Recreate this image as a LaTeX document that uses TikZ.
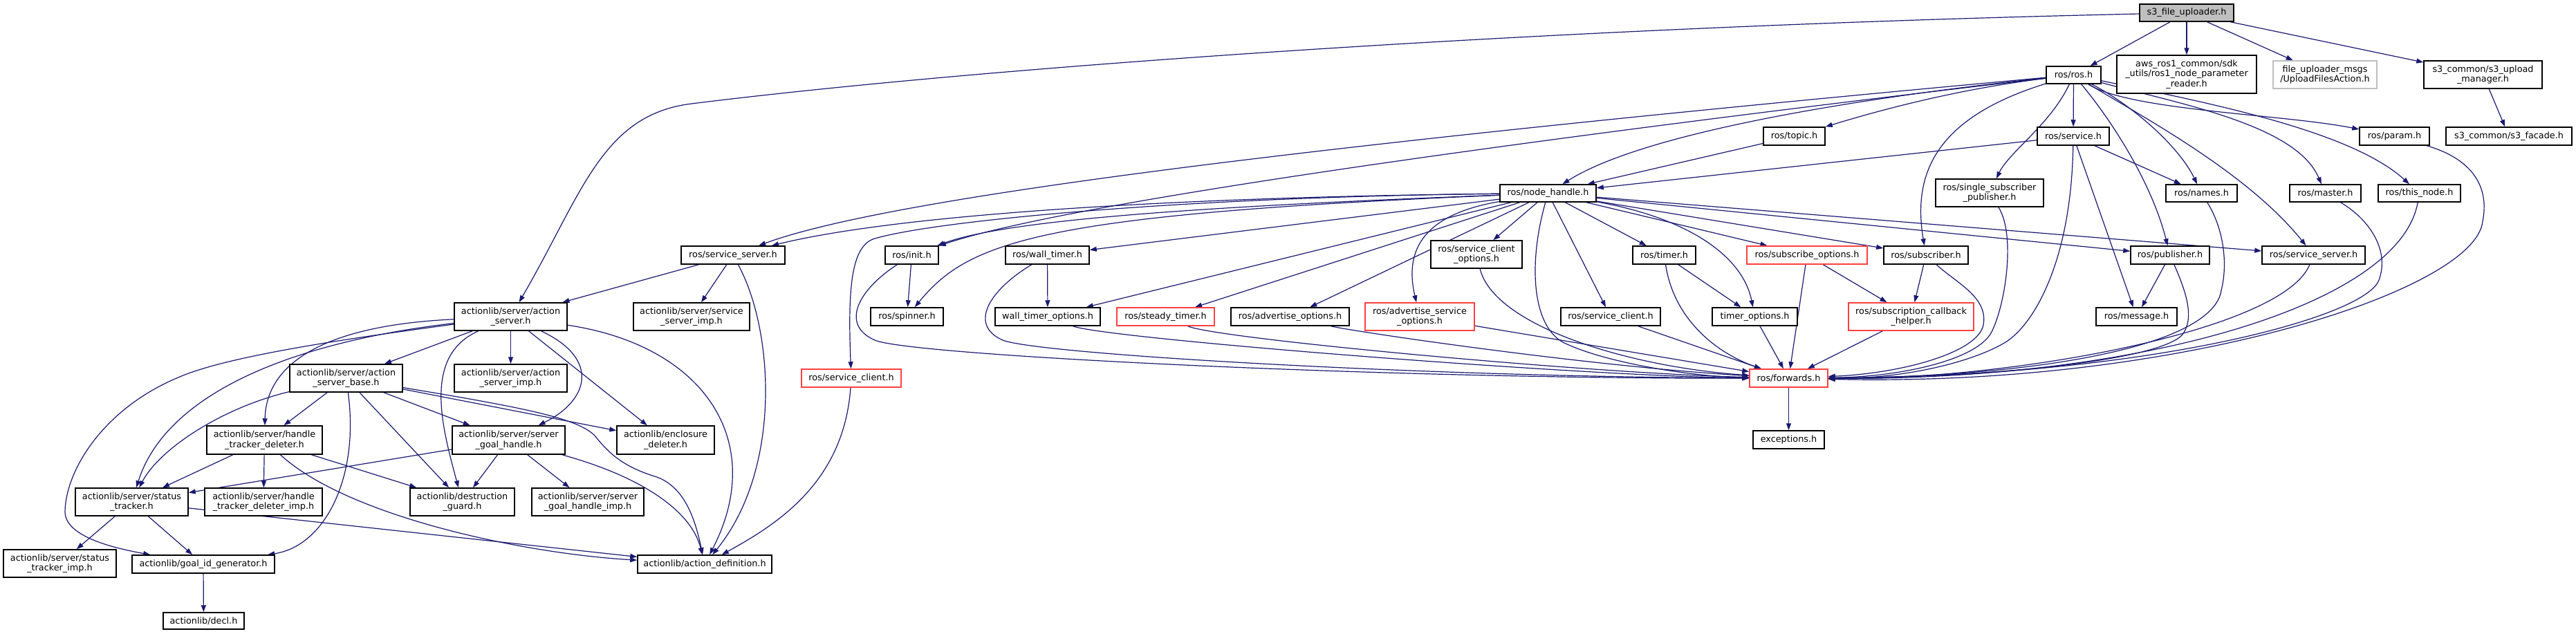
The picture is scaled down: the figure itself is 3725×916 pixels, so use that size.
\documentclass[tikz,border=0pt]{standalone}
\usepackage{fontspec}
\setmainfont{DejaVu Sans}
\usetikzlibrary{arrows.meta}
\definecolor{edgeblue}{HTML}{191970}
\definecolor{rootgray}{HTML}{BFBFBF}
\definecolor{ghostgray}{HTML}{BFBFBF}
\definecolor{cutred}{HTML}{FF4040}
\pgfdeclarelayer{background}
\pgfsetlayers{background,main}

\begin{document}
\begin{tikzpicture}[x=1pt,y=-1pt,->,>={Triangle[length=10pt,width=7pt]},
                    every edge/.style={draw=edgeblue,line width=1.2pt},
                    font=\fontsize{12.8}{14.7}\selectfont]
  \tikzstyle{hdr}=[draw=black,fill=white,text=black,line width=1.5pt,inner sep=0pt,align=center]
  \tikzstyle{root}=[fill=rootgray]
  \tikzstyle{ghost}=[draw=ghostgray]
  \tikzstyle{truncated}=[draw=cutred]
  \tikzstyle{dep}=[draw=edgeblue,line width=1.2pt]
  \tikzset{sz/.style 2 args={minimum width=#1pt,minimum height=#2pt}}

  \useasboundingbox (0,0) rectangle (3725,916);

  % top rows
  \node[hdr,root,sz={136}{25}] (s3up) at (3162,18.5) {s3\_file\_uploader.h};
  \node[hdr,sz={79}{25}] (rosros) at (2998.5,108.5) {ros/ros.h};
  \node[hdr,sz={202}{55}] (awsreader) at (3162,107.5) {aws\_ros1\_common/sdk\\\_utils/ros1\_node\_parameter\\\_reader.h};
  \node[hdr,ghost,sz={150}{40}] (uploadmsgs) at (3362,108) {file\_uploader\_msgs\\/UploadFilesAction.h};
  \node[hdr,sz={171}{40}] (uploadmgr) at (3590.5,108) {s3\_common/s3\_upload\\\_manager.h};
  \node[hdr,sz={89}{26}] (topic) at (2594.5,197) {ros/topic.h};
  \node[hdr,sz={104}{26}] (service) at (2998,197) {ros/service.h};
  \node[hdr,sz={101}{26}] (param) at (3462.5,197) {ros/param.h};
  \node[hdr,sz={182}{26}] (facade) at (3628,197) {s3\_common/s3\_facade.h};
  \node[hdr,sz={139}{25}] (nodehandle) at (2238.5,279.5) {ros/node\_handle.h};
  \node[hdr,sz={156}{40}] (singlepub) at (2877,279) {ros/single\_subscriber\\\_publisher.h};
  \node[hdr,sz={103}{25}] (names) at (3183.5,279.5) {ros/names.h};
  \node[hdr,sz={103}{25}] (master) at (3362.5,279.5) {ros/master.h};
  \node[hdr,sz={119}{25}] (thisnode) at (3498.5,279.5) {ros/this\_node.h};

  % ros middle rows
  \node[hdr,sz={150}{26}] (srvsrvl) at (1060,369) {ros/service\_server.h};
  \node[hdr,sz={77}{26}] (init) at (1318.5,369) {ros/init.h};
  \node[hdr,sz={121}{26}] (walltimer) at (1514.5,369) {ros/wall\_timer.h};
  \node[hdr,sz={132}{40}] (clientopts) at (2135,368) {ros/service\_client\\\_options.h};
  \node[hdr,sz={91}{26}] (timer) at (2406.5,369) {ros/timer.h};
  \node[hdr,truncated,sz={174}{26}] (subopts) at (2613,369) {ros/subscribe\_options.h};
  \node[hdr,sz={122}{26}] (subscriber) at (2785,369) {ros/subscriber.h};
  \node[hdr,sz={114}{26}] (publisher) at (3138,369) {ros/publisher.h};
  \node[hdr,sz={149}{26}] (srvsrvr) at (3345.5,369) {ros/service\_server.h};
  \node[hdr,sz={105}{26}] (spinner) at (1311.5,458) {ros/spinner.h};
  \node[hdr,sz={152}{26}] (walltimeropts) at (1515,458) {wall\_timer\_options.h};
  \node[hdr,truncated,sz={141}{26}] (steadytimer) at (1685.5,458) {ros/steady\_timer.h};
  \node[hdr,sz={171}{26}] (advopts) at (1865.5,458) {ros/advertise\_options.h};
  \node[hdr,truncated,sz={158}{40}] (advsrvopts) at (2053,458) {ros/advertise\_service\\\_options.h};
  \node[hdr,sz={144}{26}] (svcclientr) at (2329,458) {ros/service\_client.h};
  \node[hdr,sz={123}{26}] (timeropts) at (2537.5,458) {timer\_options.h};
  \node[hdr,truncated,sz={181}{40}] (cbhelper) at (2763.5,458) {ros/subscription\_callback\\\_helper.h};
  \node[hdr,sz={117}{26}] (message) at (3089.5,458) {ros/message.h};
  \node[hdr,truncated,sz={144}{26}] (svcclientl) at (1231,547) {ros/service\_client.h};
  \node[hdr,truncated,sz={113}{26}] (forwards) at (2586.5,547) {ros/forwards.h};
  \node[hdr,sz={103}{26}] (exceptions) at (2586.5,636) {exceptions.h};

  % actionlib
  \node[hdr,sz={163}{40}] (actsrv) at (738.5,458) {actionlib/server/action\\\_server.h};
  \node[hdr,sz={168}{40}] (srvsrvimp) at (1000,458) {actionlib/server/service\\\_server\_imp.h};
  \node[hdr,sz={163}{40}] (actsrvbase) at (500.5,547) {actionlib/server/action\\\_server\_base.h};
  \node[hdr,sz={163}{40}] (actsrvimp) at (738.5,547) {actionlib/server/action\\\_server\_imp.h};
  \node[hdr,sz={167}{41}] (htdeleter) at (382.5,636.5) {actionlib/server/handle\\\_tracker\_deleter.h};
  \node[hdr,sz={163}{41}] (goalhandle) at (735.5,636.5) {actionlib/server/server\\\_goal\_handle.h};
  \node[hdr,sz={141}{41}] (enclosure) at (962.5,636.5) {actionlib/enclosure\\\_deleter.h};
  \node[hdr,sz={163}{40}] (tracker) at (190.5,726) {actionlib/server/status\\\_tracker.h};
  \node[hdr,sz={170}{40}] (htdeleterimp) at (381,726) {actionlib/server/handle\\\_tracker\_deleter\_imp.h};
  \node[hdr,sz={151}{40}] (guard) at (668.5,726) {actionlib/destruction\\\_guard.h};
  \node[hdr,sz={162}{40}] (goalhandleimp) at (850,726) {actionlib/server/server\\\_goal\_handle\_imp.h};
  \node[hdr,sz={163}{40}] (trackerimp) at (86.5,815) {actionlib/server/status\\\_tracker\_imp.h};
  \node[hdr,sz={206}{26}] (goalid) at (294,816) {actionlib/goal\_id\_generator.h};
  \node[hdr,sz={194}{26}] (actdef) at (1019,816) {actionlib/action\_definition.h};
  \node[hdr,sz={117}{24}] (decl) at (294.5,898) {actionlib/decl.h};

  \begin{pgfonlayer}{background}
  % straight includes
  \path (s3up) edge (rosros)
        (s3up) edge (awsreader)
        (s3up) edge (uploadmsgs)
        (s3up) edge (uploadmgr)
        (uploadmgr) edge (facade)
        (rosros) edge (service)
        (topic) edge (nodehandle)
        (service) edge (nodehandle)
        (service) edge (names)
        (service) edge (message)
        (subscriber) edge (cbhelper)
        (publisher) edge (message)
        (nodehandle) edge (clientopts)
        (nodehandle) edge (advopts)
        (nodehandle) edge (svcclientr)
        (nodehandle) edge (timer)
        (nodehandle) edge (subopts)
        (nodehandle) edge (subscriber)
        (nodehandle) edge (publisher)
        (nodehandle) edge (srvsrvr)
        (nodehandle) edge (walltimer)
        (nodehandle) edge (walltimeropts)
        (nodehandle) edge (steadytimer)
        (init) edge (spinner)
        (walltimer) edge (walltimeropts)
        (timer) edge (timeropts)
        (timeropts) edge (forwards)
        (svcclientr) edge (forwards)
        (subopts) edge (forwards)
        (subopts) edge (cbhelper)
        (cbhelper) edge (forwards)
        (advsrvopts) edge (forwards)
        (forwards) edge (exceptions)
        (srvsrvl) edge (actsrv)
        (srvsrvl) edge (srvsrvimp)
        (actsrv) edge (actsrvbase)
        (actsrv) edge (actsrvimp)
        (actsrv) edge (enclosure)
        (actsrvbase) edge (htdeleter)
        (actsrvbase) edge (guard)
        (actsrvbase) edge (goalhandle)
        (actsrvbase) edge (enclosure)
        (htdeleter) edge (tracker)
        (htdeleter) edge (htdeleterimp)
        (htdeleter) edge (guard)
        (goalhandle) edge (tracker)
        (goalhandle) edge (guard)
        (goalhandle) edge (goalhandleimp)
        (tracker) edge (trackerimp)
        (tracker) edge (goalid)
        (tracker) edge (actdef)
        (goalid) edge (decl);

  % curved includes
  \draw[dep] (s3up) .. controls (2200,40) and (1400,100) .. (1000,150) .. controls (870,166) and (842,280) .. (actsrv);
  \draw[dep] (rosros) .. controls (2820,130) and (2700,165) .. (topic);
  \draw[dep] (rosros) .. controls (2700,140) and (2380,190) .. (nodehandle);
  \draw[dep] (rosros) .. controls (2000,200) and (1300,280) .. (srvsrvl);
  \draw[dep] (rosros) .. controls (2300,190) and (1550,290) .. (init);
  \draw[dep] (rosros) .. controls (3080,160) and (3300,165) .. (param);
  \draw[dep] (rosros) .. controls (2965,180) and (2905,220) .. (singlepub);
  \draw[dep] (rosros) .. controls (3080,150) and (3150,210) .. (names);
  \draw[dep] (rosros) .. controls (3150,150) and (3320,180) .. (master);
  \draw[dep] (rosros) .. controls (3200,150) and (3400,190) .. (thisnode);
  \draw[dep] (rosros) .. controls (3050,170) and (3110,260) .. (publisher);
  \draw[dep] (rosros) .. controls (3100,170) and (3250,250) .. (srvsrvr);
  \draw[dep] (rosros) .. controls (2800,170) and (2765,250) .. (subscriber);
  \draw[dep] (service) .. controls (2995,380) and (2940,470) .. (2900,495) .. controls (2850,525) and (2750,548) .. (forwards);
  \draw[dep] (singlepub) .. controls (2915,340) and (2900,440) .. (2880,480) .. controls (2860,520) and (2750,545) .. (forwards);
  \draw[dep] (subscriber) .. controls (2830,410) and (2875,430) .. (2868,470) .. controls (2860,510) and (2750,540) .. (forwards);
  \draw[dep] (publisher) .. controls (3160,420) and (3175,460) .. (3155,485) .. controls (3120,520) and (2900,545) .. (forwards);
  \draw[dep] (names) .. controls (3215,330) and (3222,380) .. (3212,420) .. controls (3200,500) and (2950,545) .. (forwards);
  \draw[dep] (srvsrvr) .. controls (3300,480) and (2900,550) .. (forwards);
  \draw[dep] (master) .. controls (3430,320) and (3455,365) .. (3440,405) .. controls (3420,460) and (3100,545) .. (forwards);
  \draw[dep] (thisnode) .. controls (3470,440) and (3100,550) .. (forwards);
  \draw[dep] (param) .. controls (3575,230) and (3600,270) .. (3590,320) .. controls (3580,420) and (3150,560) .. (forwards);
  \draw[dep] (nodehandle) .. controls (2060,310) and (2030,360) .. (advsrvopts);
  \draw[dep] (nodehandle) .. controls (2210,380) and (2215,470) .. (2260,495) .. controls (2320,525) and (2450,545) .. (forwards);
  \draw[dep] (nodehandle) .. controls (2440,315) and (2520,370) .. (timeropts);
  \draw[dep] (nodehandle) .. controls (1700,285) and (1300,310) .. (srvsrvl);
  \draw[dep] (nodehandle) .. controls (1700,285) and (1350,320) .. (1265,345) .. controls (1230,355) and (1226,420) .. (svcclientl);
  \draw[dep] (nodehandle) .. controls (1700,300) and (1450,320) .. (init);
  \draw[dep] (nodehandle) .. controls (1500,310) and (1400,350) .. (spinner);
  \draw[dep] (clientopts) .. controls (2160,470) and (2350,530) .. (forwards);
  \draw[dep] (advopts) .. controls (1960,480) and (2300,530) .. (forwards);
  \draw[dep] (steadytimer) .. controls (1760,490) and (2300,540) .. (forwards);
  \draw[dep] (walltimeropts) .. controls (1600,490) and (2300,545) .. (forwards);
  \draw[dep] (walltimer) .. controls (1430,420) and (1400,470) .. (1450,492) .. controls (1500,512) and (2050,545) .. (forwards);
  \draw[dep] (init) .. controls (1240,420) and (1215,470) .. (1265,492) .. controls (1315,514) and (2000,548) .. (forwards);
  \draw[dep] (timer) .. controls (2420,460) and (2480,510) .. (forwards);
  \draw[dep] (srvsrvl) .. controls (1120,480) and (1130,680) .. (actdef);
  \draw[dep] (svcclientl) .. controls (1220,700) and (1120,760) .. (actdef);
  \draw[dep] (actsrv) .. controls (480,470) and (385,520) .. (htdeleter);
  \draw[dep] (actsrv) .. controls (500,490) and (330,515) .. (260,545) .. controls (150,590) and (95,680) .. (94,740) .. controls (94,775) and (160,792) .. (goalid);
  \draw[dep] (actsrv) .. controls (420,495) and (240,570) .. (tracker);
  \draw[dep] (actsrvbase) .. controls (320,590) and (230,650) .. (tracker);
  \draw[dep] (actsrvbase) .. controls (520,690) and (470,790) .. (goalid);
  \draw[dep] (actsrvbase) .. controls (760,590) and (835,605) .. (860,630) .. controls (880,655) and (900,675) .. (950,690) .. controls (990,705) and (1005,750) .. (actdef);
  \draw[dep] (htdeleter) .. controls (500,745) and (750,800) .. (actdef);
  \draw[dep] (goalhandle) .. controls (930,690) and (1000,740) .. (actdef);
  \draw[dep] (actsrv) .. controls (610,515) and (640,620) .. (guard);
  \draw[dep] (actsrv) .. controls (870,520) and (850,580) .. (goalhandle);
  \draw[dep] (actsrv) .. controls (1020,500) and (1110,640) .. (actdef);
  \end{pgfonlayer}
\end{tikzpicture}
\end{document}
